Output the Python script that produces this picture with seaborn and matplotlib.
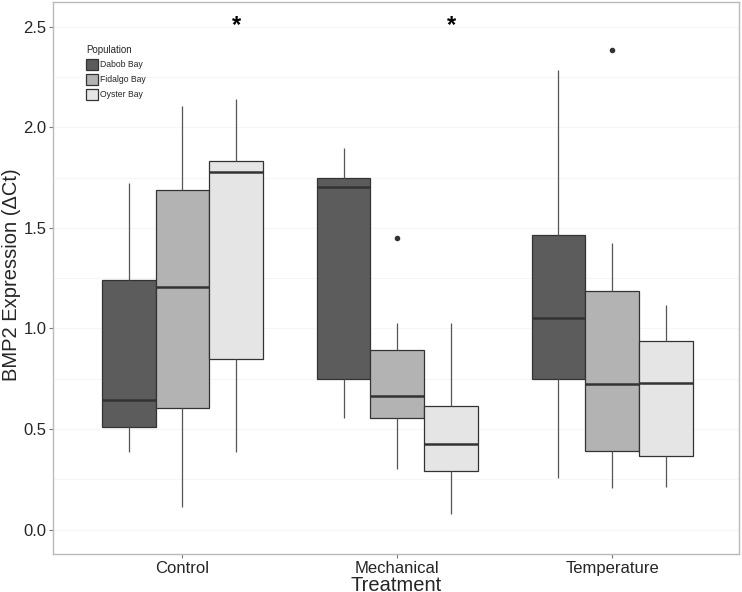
import numpy as np
import pandas as pd
import matplotlib
matplotlib.use("Agg")
import matplotlib.pyplot as plt
import seaborn as sns

# box summary values (whisker low, Q1, median, Q3, whisker high)
treatments = ["Control", "Mechanical", "Temperature"]
populations = ["Dabob Bay", "Fidalgo Bay", "Oyster Bay"]

lo_whisk = {"Dabob Bay": [0.384, 0.556, 0.255],
            "Fidalgo Bay": [0.110, 0.302, 0.206],
            "Oyster Bay": [0.384, 0.079, 0.210]}
q1 = {"Dabob Bay": [0.511, 0.747, 0.750],
      "Fidalgo Bay": [0.603, 0.556, 0.393],
      "Oyster Bay": [0.850, 0.290, 0.366]}
med = {"Dabob Bay": [0.646, 1.704, 1.054],
       "Fidalgo Bay": [1.208, 0.663, 0.724],
       "Oyster Bay": [1.779, 0.424, 0.729]}
q3 = {"Dabob Bay": [1.241, 1.750, 1.465],
      "Fidalgo Bay": [1.689, 0.891, 1.185],
      "Oyster Bay": [1.832, 0.613, 0.938]}
hi_whisk = {"Dabob Bay": [1.725, 1.897, 2.285],
            "Fidalgo Bay": [2.108, 1.027, 1.424],
            "Oyster Bay": [2.140, 1.027, 1.117]}
# outliers: (treatment, population, value)
outliers = [("Mechanical", "Fidalgo Bay", 1.450),
            ("Temperature", "Fidalgo Bay", 2.385)]

signif = ["Control", "Mechanical"]  # starred treatments (over Oyster Bay)

colors = ["#5c5c5c", "#b3b3b3", "#e5e5e5"]

# build a long table: 9 points per box so quartiles land exactly on the read values
rows = []
for p in populations:
    for i, t in enumerate(treatments):
        out = [o[2] for o in outliers if o[0] == t and o[1] == p]
        vals = [lo_whisk[p][i], q1[p][i], q1[p][i], med[p][i], med[p][i],
                q3[p][i], q3[p][i], hi_whisk[p][i]]
        vals.append(out[0] if out else hi_whisk[p][i])
        for v in vals:
            rows.append({"Treatment": t, "Population": p, "Expr": v})
df = pd.DataFrame(rows)

sns.set_style("white")
plt.rcParams['font.family'] = ['Liberation Sans', 'DejaVu Sans']

fig, ax = plt.subplots(figsize=(7.42, 5.92), dpi=100)
fig.subplots_adjust(left=0.072, right=0.996, top=0.997, bottom=0.064)

for yv in np.arange(0, 2.51, 0.25):
    ax.axhline(yv, color="#f6f6f6", lw=0.8, zorder=0)

sns.boxplot(data=df, x="Treatment", y="Expr", hue="Population",
            order=treatments, hue_order=populations, palette=colors,
            width=0.75, gap=0, saturation=1, whis=1.5, showcaps=False,
            linecolor="#333333", linewidth=0.9,
            medianprops=dict(color="#333333", linewidth=1.8),
            whiskerprops=dict(color="#555555", linewidth=0.9),
            flierprops=dict(marker="o", markersize=3, markerfacecolor="#333333",
                            markeredgecolor="#333333"),
            ax=ax)

# significance stars
for t in signif:
    xi = treatments.index(t) + 0.25
    ax.text(xi, 2.505, "*", ha="center", va="center", fontsize=17,
            fontweight="bold", color="black")

ax.set_xlim(-0.6, 2.59)
ax.set_ylim(-0.122, 2.624)
ax.set_yticks([0.0, 0.5, 1.0, 1.5, 2.0, 2.5])
ax.set_yticklabels(["0.0", "0.5", "1.0", "1.5", "2.0", "2.5"])
ax.tick_params(axis="both", labelsize=12, length=3, color="#777777",
               direction="out", bottom=True, left=True, pad=2)
ax.set_xlabel("Treatment", fontsize=14.5)
ax.set_ylabel("BMP2 Expression (\u0394Ct)", fontsize=14.5)
ax.xaxis.set_label_coords(0.5, -0.039)
ax.yaxis.set_label_coords(-0.047, 0.505)
ax.xaxis.label.set_va("top")
for s in ax.spines.values():
    s.set_color("#bbbbbb")
    s.set_linewidth(1)

leg = ax.legend(title="Population", loc="upper left",
                bbox_to_anchor=(0.043, 0.928), frameon=False,
                fontsize=6.2, title_fontsize=7, handlelength=1.3,
                handleheight=1.6, labelspacing=0.45, handletextpad=0.3,
                borderaxespad=0)
leg._legend_box.align = "left"

fig.savefig("out.png", dpi=100)
